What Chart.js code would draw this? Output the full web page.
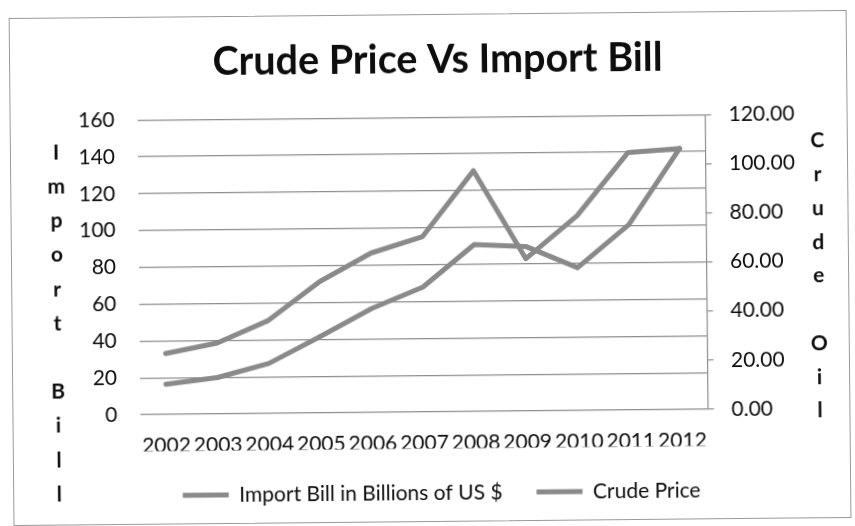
<!DOCTYPE html>
<html>
<head>
<meta charset="utf-8">
<title>Crude Price Vs Import Bill</title>
<script src="https://cdn.jsdelivr.net/npm/chart.js@4.4.1/dist/chart.umd.min.js"></script>
<style>
  html, body { margin: 0; padding: 0; background: #fff; overflow: hidden; }
  #sheet {
    position: relative; width: 855px; height: 526px;
    transform: rotate(-0.55deg); transform-origin: 50% 50%;
  }
  #frame {
    position: absolute; left: 11px; top: 14px; width: 838px; height: 508px;
    border: 1.5px solid #9a9a9a; box-sizing: border-box;
  }
  #chart { position: absolute; left: 0; top: 0; }
</style>
</head>
<body>
<div id="sheet">
  <div id="frame"></div>
  <canvas id="chart" width="855" height="526"></canvas>
</div>
<script>
// Years on the category axis
const years = ['2002', '2003', '2004', '2005', '2006', '2007', '2008', '2009', '2010', '2011', '2012'];

// Import bill, billions of US $ (left axis)
const importBill = [16.4, 19.8, 27.2, 41.5, 56.4, 67.8, 90.6, 89.3, 77.5, 100.6, 141.7];

// Crude price, US $ per barrel (right axis)
const crudePrice = [24.8, 28.9, 37.9, 53.5, 64.9, 71.4, 98.0, 62.0, 79.3, 104.8, 106.2];

// Axis ranges
const importTicks = { min: 0, max: 160, step: 20 };
const crudeTicks = { min: 0, max: 120, step: 20 };

// Vertical axis captions, one letter per line ('' = blank line)
const leftCaption = ['I', 'm', 'p', 'o', 'r', 't', '', 'B', 'i', 'l', 'l'];
const rightCaption = ['C', 'r', 'u', 'd', 'e', '', 'O', 'i', 'l'];

const FONT = 'Lato';
const INK = '#0d0d0d';
const GRID = '#8e8e8e';
const LINE = '#8a8a8a';

Chart.defaults.font.family = FONT;
Chart.defaults.color = INK;

// Draws the stacked letter captions beside both value axes
const stackedCaptions = {
  id: 'stackedCaptions',
  afterDraw(chart) {
    const { ctx, chartArea } = chart;
    ctx.save();
    ctx.font = 'bold 21px ' + FONT;
    ctx.fillStyle = INK;
    ctx.textAlign = 'center';
    ctx.textBaseline = 'middle';
    leftCaption.forEach((ch, i) => {
      ctx.fillText(ch, chartArea.left - 82, chartArea.top + 32 + i * 34.2);
    });
    rightCaption.forEach((ch, i) => {
      ctx.fillText(ch, chartArea.right + 112, chartArea.top + 27.5 + i * 33.75);
    });
    ctx.restore();
  }
};

new Chart(document.getElementById('chart'), {
  type: 'line',
  data: {
    labels: years,
    datasets: [
      {
        label: 'Import Bill in Billions of US $',
        data: importBill,
        yAxisID: 'y',
        borderColor: LINE,
        backgroundColor: LINE,
        borderWidth: 5,
        pointRadius: 0,
        tension: 0,
        borderJoinStyle: 'round',
        borderCapStyle: 'round'
      },
      {
        label: 'Crude Price',
        data: crudePrice,
        yAxisID: 'y1',
        borderColor: LINE,
        backgroundColor: LINE,
        borderWidth: 5,
        pointRadius: 0,
        tension: 0,
        borderJoinStyle: 'round',
        borderCapStyle: 'round'
      }
    ]
  },
  options: {
    responsive: false,
    animation: false,
    devicePixelRatio: 1,
    layout: { padding: { left: 24, right: 0, top: 0, bottom: 12.5 } },
    plugins: {
      title: {
        display: true,
        text: 'Crude Price Vs Import Bill',
        color: INK,
        font: { size: 39.5, weight: 'bold', family: FONT },
        padding: { top: 36.8, bottom: 32.9 }
      },
      legend: {
        position: 'bottom',
        labels: {
          boxWidth: 46,
          boxHeight: 5,
          padding: 34,
          color: INK,
          font: { size: 21, family: FONT },
          generateLabels(chart) {
            return Chart.defaults.plugins.legend.labels.generateLabels(chart).map(item => {
              item.lineWidth = 0;
              item.fillStyle = LINE;
              return item;
            });
          }
        }
      },
      tooltip: { enabled: false }
    },
    scales: {
      x: {
        offset: true,
        grid: { display: false, drawTicks: false },
        border: { display: false },
        ticks: {
          autoSkip: false, maxRotation: 0, minRotation: 0,
          padding: 19, color: INK, font: { size: 21 }
        },
        afterFit(scale) { scale.height = 36.5; }
      },
      y: {
        position: 'left',
        min: importTicks.min,
        max: importTicks.max,
        grid: { color: GRID, lineWidth: 1.2, drawTicks: false },
        border: { display: false },
        ticks: { stepSize: importTicks.step, padding: 23, color: INK, font: { size: 21 } },
        afterFit(scale) { scale.width = 115; }
      },
      y1: {
        position: 'right',
        min: crudeTicks.min,
        max: crudeTicks.max,
        grid: { drawOnChartArea: false, drawTicks: true, tickLength: 6, color: GRID, lineWidth: 1.2 },
        border: { display: true, color: GRID, width: 1.2 },
        ticks: {
          stepSize: crudeTicks.step, padding: 17.5, color: INK, font: { size: 21 },
          callback: v => Number(v).toFixed(2)
        },
        afterFit(scale) { scale.width = 148.5; }
      }
    }
  },
  plugins: [stackedCaptions]
});
</script>
</body>
</html>
